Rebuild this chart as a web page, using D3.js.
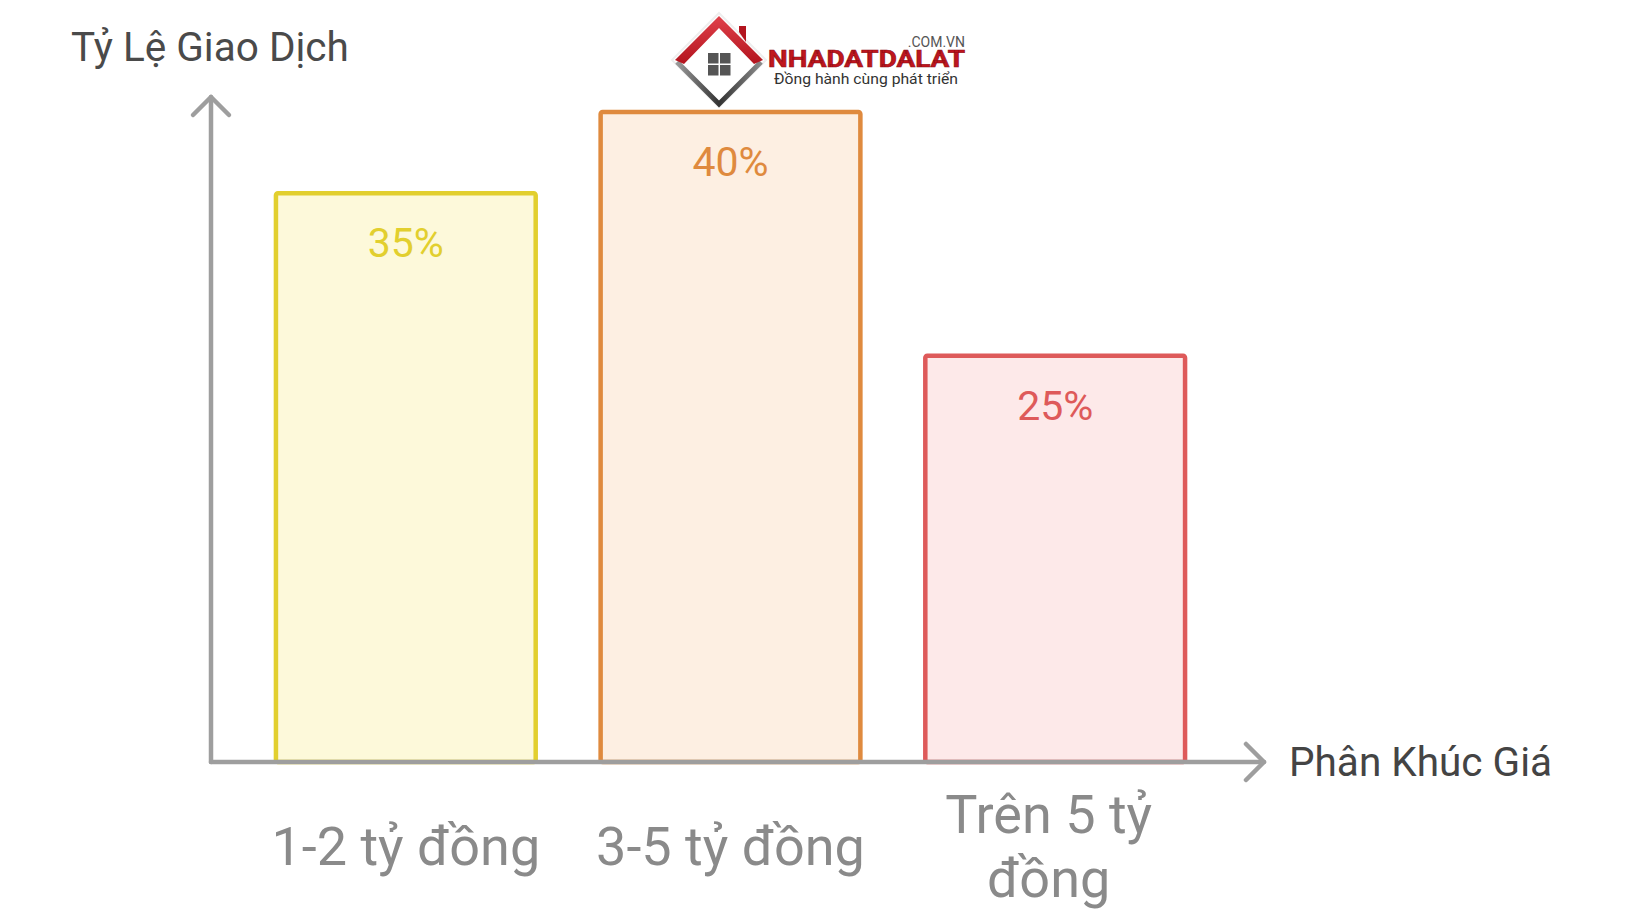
<!DOCTYPE html>
<html>
<head>
<meta charset="utf-8">
<script src="https://cdn.jsdelivr.net/npm/d3@7"></script>
<style>
  html, body { margin: 0; padding: 0; background: #ffffff; }
  svg { display: block; font-family: Roboto, "Noto Sans", sans-serif; }
</style>
</head>
<body>
<svg id="chart" width="1640" height="924"></svg>
<script>
// ---- data ----
const categories = ["1-2 tỷ đồng", "3-5 tỷ đồng", "Trên 5 tỷ đồng"];
const shares = [35, 40, 25];
const valueLabels = ["35%", "40%", "25%"];
const strokeColors = ["#e2cf2e", "#df8a3e", "#de5a5a"];
const fillColors = ["#fdf9da", "#fdefe2", "#fde9e9"];
const yTitle = "Tỷ Lệ Giao Dịch";
const xTitle = "Phân Khúc Giá";

// ---- layout ----
const svg = d3.select("#chart");
const x0 = 211, base = 762, topY = 112, xEnd = 1250;

const x = d3.scaleBand()
  .domain(categories)
  .range([x0, xEnd])
  .paddingInner(0.2)
  .paddingOuter(0.2);

const y = d3.scaleLinear()
  .domain([0, 40])
  .range([base, topY]);

// bars
const bars = svg.append("g").selectAll("g.bar")
  .data(categories)
  .join("g").attr("class", "bar");

bars.append("rect")
  .attr("x", d => x(d))
  .attr("y", (d, i) => y(shares[i]))
  .attr("width", x.bandwidth())
  .attr("height", (d, i) => base - y(shares[i]))
  .attr("rx", 2)
  .attr("fill", (d, i) => fillColors[i])
  .attr("stroke", (d, i) => strokeColors[i])
  .attr("stroke-width", 4.5);

bars.append("text")
  .attr("x", d => x(d) + x.bandwidth() / 2)
  .attr("y", (d, i) => y(shares[i]) + 50)
  .attr("text-anchor", "middle")
  .attr("dominant-baseline", "central")
  .attr("font-size", 41)
  .attr("fill", (d, i) => strokeColors[i])
  .text((d, i) => valueLabels[i]);

// axes lines with arrow heads
const axisColor = "#9e9e9e";
const ax = svg.append("g")
  .attr("fill", "none")
  .attr("stroke", axisColor)
  .attr("stroke-width", 4.5)
  .attr("stroke-linecap", "round")
  .attr("stroke-linejoin", "round");

const yTop = 97, xTip = 1264, arm = 18;
ax.append("line").attr("x1", x0).attr("y1", base).attr("x2", x0).attr("y2", yTop);
ax.append("line").attr("x1", x0).attr("y1", base).attr("x2", xTip).attr("y2", base);
ax.append("polyline").attr("points", `${x0 - arm},${yTop + arm} ${x0},${yTop} ${x0 + arm},${yTop + arm}`);
ax.append("polyline").attr("points", `${xTip - arm},${base - arm} ${xTip},${base} ${xTip - arm},${base + arm}`);

// category axis (labels only)
const xAxis = svg.append("g")
  .attr("transform", `translate(0,${base})`)
  .call(d3.axisBottom(x).tickSize(0).tickPadding(0));
xAxis.select(".domain").remove();
xAxis.selectAll("text")
  .attr("font-family", "Roboto, sans-serif")
  .attr("font-size", 54)
  .attr("fill", "#8a8a8a")
  .attr("dy", null)
  .each(function(d) {
    const t = d3.select(this);
    const words = d.split(" ");
    const maxW = 300;
    t.text(null);
    let lines = [], cur = [];
    const probe = t.append("tspan");
    words.forEach(w => {
      const test = cur.concat([w]).join(" ");
      probe.text(test);
      if (probe.node().getComputedTextLength() > maxW && cur.length) {
        lines.push(cur.join(" "));
        cur = [w];
      } else cur.push(w);
    });
    lines.push(cur.join(" "));
    probe.remove();
    const lh = 64, center = 84;
    const start = center - (lines.length - 1) * lh / 2;
    const shift = lines.length > 1 ? -6.5 : 0;
    lines.forEach((ln, k) => {
      t.append("tspan")
        .attr("x", shift)
        .attr("y", start + k * lh)
        .attr("dominant-baseline", "central")
        .text(ln);
    });
  });

// titles
svg.append("text")
  .attr("x", 71).attr("y", 47)
  .attr("dominant-baseline", "central")
  .attr("font-size", 40.5)
  .attr("fill", "#4a4a4a")
  .text(yTitle);

svg.append("text")
  .attr("x", 1289).attr("y", 762)
  .attr("dominant-baseline", "central")
  .attr("font-size", 40.5)
  .attr("fill", "#444444")
  .text(xTitle);

// ---- watermark logo ----
const logo = svg.append("g");
const cx = 719, cy = 60, r = 44;
const defs = svg.append("defs");
const rg = defs.append("linearGradient").attr("id", "roof").attr("x1", 0).attr("y1", 0).attr("x2", 0).attr("y2", 1);
rg.append("stop").attr("offset", "0%").attr("stop-color", "#e0404a");
rg.append("stop").attr("offset", "100%").attr("stop-color", "#b3141e");
const gg = defs.append("linearGradient").attr("id", "wall").attr("x1", 0).attr("y1", 0).attr("x2", 1).attr("y2", 0);
gg.append("stop").attr("offset", "0%").attr("stop-color", "#9a9a9a");
gg.append("stop").attr("offset", "50%").attr("stop-color", "#333333");
gg.append("stop").attr("offset", "100%").attr("stop-color", "#8a8a8a");

logo.append("path")
  .attr("d", `M${cx},${cy - r - 3} L${cx + r + 3},${cy} L${cx},${cy + r + 3} L${cx - r - 3},${cy} Z`)
  .attr("fill", "#ffffff").attr("stroke", "#eeeeee").attr("stroke-width", 2);
logo.append("path")
  .attr("d", `M${cx - r + 2},${cy + 2} L${cx},${cy + r} L${cx + r - 2},${cy + 2}`)
  .attr("fill", "none").attr("stroke", "url(#wall)").attr("stroke-width", 5)
  .attr("stroke-linejoin", "miter");
logo.append("path")
  .attr("d", `M${cx - r},${cy} L${cx},${cy - r} L${cx + r},${cy} L${cx + r - 9},${cy + 4} L${cx},${cy - r + 12} L${cx - r + 9},${cy + 4} Z`)
  .attr("fill", "url(#roof)");
logo.append("path")
  .attr("d", `M${cx + 20},${cy - 28} L${cx + 20},${cy - 34} L${cx + 27},${cy - 34} L${cx + 27},${cy - 18} Z`)
  .attr("fill", "#b3141e");
[[0, 0], [1, 0], [0, 1], [1, 1]].forEach(([i, j]) => {
  logo.append("rect")
    .attr("x", cx - 11 + i * 12).attr("y", cy - 7 + j * 12)
    .attr("width", 10.5).attr("height", 10.5)
    .attr("fill", "#555555");
});
logo.append("text")
  .attr("x", 965).attr("y", 47).attr("text-anchor", "end")
  .attr("font-size", 14).attr("fill", "#555555")
  .text(".COM.VN");
logo.append("text")
  .attr("x", 768).attr("y", 67)
  .attr("font-size", 23).attr("font-weight", "bold")
  .attr("textLength", 197).attr("lengthAdjust", "spacingAndGlyphs")
  .attr("fill", "#c0161e").attr("stroke", "#8f0d14").attr("stroke-width", 0.6)
  .text("NHADATDALAT");
logo.append("text")
  .attr("x", 774).attr("y", 84)
  .attr("font-size", 15.5).attr("fill", "#333333")
  .attr("textLength", 184).attr("lengthAdjust", "spacingAndGlyphs")
  .text("Đồng hành cùng phát triển");
</script>
</body>
</html>
